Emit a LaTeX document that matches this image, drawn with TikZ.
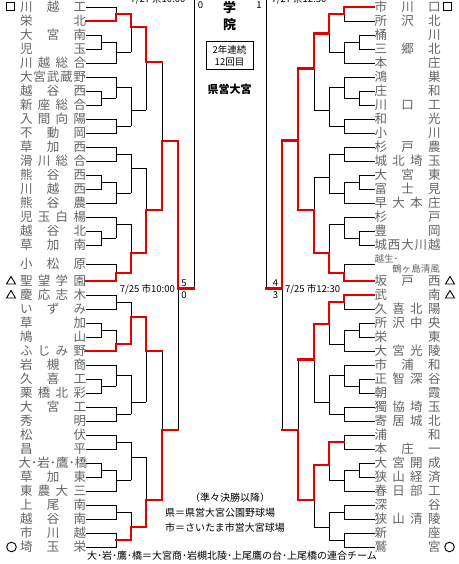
\documentclass[tikz,border=0pt]{standalone}
\usepackage{fontspec}
\setmainfont{Noto Sans CJK JP}
\definecolor{tgray}{RGB}{100,100,100}
\definecolor{bred}{RGB}{228,0,0}
\newcommand\gp{\hfill}
\newcommand\brk[1]{\foreach \x/\ya/\yb/\yo/\xn in {#1} {\draw[bk] (\x,\ya) -- (\x,\yb) (\x,\yo) -- (\xn,\yo);}}
\tikzset{
  tname/.style={inner sep=0pt, text=tgray, font=\fontsize{12.5}{12.5}\selectfont, text height=11pt, text depth=1.5pt, minimum width=66pt},
  bk/.style={draw=black, line width=0.8pt, line cap=rect},
  rd/.style={draw=bred, line width=2.2pt, line cap=rect},
  lbl/.style={inner sep=0pt, font=\fontsize{9.5}{9.5}\selectfont},
  mk/.style={draw=black, line width=1.1pt},
}
\begin{document}
\begin{tikzpicture}[x=1pt,y=-1pt]
\useasboundingbox (0,0) rectangle (458,564);
\fill[white] (0,0) rectangle (458,564);
% ---------------- left names
\foreach \i/\y/\tx in {1/7/{川\gp 越\gp 工},2/21/{栄\gp 北},3/35/{大\gp 宮\gp 南},4/49/{児\gp 玉},5/63/{川\gp 越\gp 総\gp 合},
 6/77/{大\gp 宮\gp 武\gp 蔵\gp 野},7/91/{越\gp 谷\gp 西},8/105/{新\gp 座\gp 総\gp 合},9/119/{入\gp 間\gp 向\gp 陽},10/133/{不\gp 動\gp 岡},
 11/147/{草\gp 加\gp 西},12/161/{滑\gp 川\gp 総\gp 合},13/175/{熊\gp 谷\gp 西},14/189/{川\gp 越\gp 西},15/203/{熊\gp 谷\gp 農},
 16/217/{児\gp 玉\gp 白\gp 楊},17/231/{越\gp 谷\gp 北},18/245/{草\gp 加\gp 南},19/264/{小\gp 松\gp 原},20/281/{聖\gp 望\gp 学\gp 園},
 21/295/{慶\gp 応\gp 志\gp 木},22/309/{い\gp ず\gp み},23/323/{草\gp 加},24/337/{鳩\gp 山},25/351/{ふ\gp じ\gp み\gp 野},
 26/365/{岩\gp 槻\gp 商},27/379/{久\gp 喜\gp 工},28/393/{栗\gp 橋\gp 北\gp 彩},29/407/{大\gp 宮\gp 工},30/421/{秀\gp 明},
 31/435/{松\gp 伏},32/449/{昌\gp 平},33/463/{大\gp ･\gp 岩\gp ･\gp 鷹\gp ･\gp 橋},34/477/{草\gp 加\gp 東},35/491/{東\gp 農\gp 大\gp 三},
 36/505/{上\gp 尾\gp 南},37/519/{越\gp 谷\gp 南},38/533/{市\gp 川\gp 越},39/547/{埼\gp 玉\gp 栄}}
 {\node[tname] (L\i) at (53,\y) {\makebox[66pt]{\tx}};}
% ---------------- right names
\foreach \i/\y/\tx in {1/7/{市\gp 川\gp 口},2/21/{所\gp 沢\gp 北},3/35/{桶\gp 川},4/49/{三\gp 郷\gp 北},5/63/{本\gp 庄},
 6/77/{鴻\gp 巣},7/91/{庄\gp 和},8/105/{川\gp 口\gp 工},9/119/{和\gp 光},10/133/{小\gp 川},
 11/147/{杉\gp 戸\gp 農},12/161/{城\gp 北\gp 埼\gp 玉},13/175/{大\gp 宮\gp 東},14/189/{富\gp 士\gp 見},15/203/{早\gp 大\gp 本\gp 庄},
 16/217/{杉\gp 戸},17/231/{豊\gp 岡},18/245/{城\gp 西\gp 大\gp 川\gp 越},20/281/{坂\gp 戸\gp 西},
 21/295/{武\gp 南},22/309/{久\gp 喜\gp 北\gp 陽},23/323/{所\gp 沢\gp 中\gp 央},24/337/{栄\gp 東},25/351/{大\gp 宮\gp 光\gp 陵},
 26/365/{市\gp 浦\gp 和},27/379/{正\gp 智\gp 深\gp 谷},28/393/{朝\gp 霞},29/407/{獨\gp 協\gp 埼\gp 玉},30/421/{寄\gp 居\gp 城\gp 北},
 31/435/{浦\gp 和},32/449/{本\gp 庄\gp 一},33/463/{大\gp 宮\gp 開\gp 成},34/477/{狭\gp 山\gp 経\gp 済},35/491/{春\gp 日\gp 部\gp 工},
 36/505/{深\gp 谷},37/519/{狭\gp 山\gp 清\gp 陵},38/533/{新\gp 座},39/547/{鷲\gp 宮}}
 {\node[tname] (R\i) at (407.5,\y) {\makebox[66pt]{\tx}};}
\node[tname, minimum width=0pt, anchor=west, font=\fontsize{9.5}{9.5}\selectfont] (R19a) at (374.5,258) {越生･};
\node[tname, minimum width=0pt, anchor=east, font=\fontsize{9.5}{9.5}\selectfont] (R19b) at (440,268) {鶴ヶ島清風};
\coordinate (R19) at (374.5,264);
% ---------------- team lines
\foreach \i/\l in {1/30,2/30,3/15,4/15,5/30,6/30,7/15,8/15,9/30,10/30,11/30,12/30,13/15,14/15,15/30,16/30,17/15,18/15,19/30,20/30,
 21/30,22/30,23/15,24/15,25/30,26/30,27/15,28/15,29/30,30/30,31/30,32/30,33/15,34/15,35/30,36/30,37/30,38/30,39/30}
 {\draw[bk] (L\i.east) -- ++(\l,0);}
\foreach \i/\l in {1/30,2/30,3/15,4/15,5/30,6/30,7/15,8/15,9/30,10/30,11/30,12/30,13/15,14/15,15/30,16/30,17/15,18/15,20/30,
 21/30,22/30,23/15,24/15,25/30,26/30,27/15,28/15,29/30,30/30,31/30,32/30,33/15,34/15,35/30,36/30,37/30,38/30,39/30}
 {\draw[bk] (R\i.west) -- ++(-\l,0);}
\draw[bk] (R19) -- ++(-30,0);
% ---------------- left bracket
\brk{116/7/21/14/131, 101/35/49/42/116, 116/42/63/52/131, 131/14/52/27/146, 101/91/105/98/116, 116/77/98/87/131,
 116/119/133/126/131, 131/87/126/110/146, 146/27/110/62/162,
 116/147/161/154/131, 101/175/189/182/116, 116/182/203/193/131, 131/154/193/168/146, 101/231/245/238/116, 116/217/238/224/131,
 116/264/281/273/131, 131/224/273/253/146, 146/168/253/210/162, 162/62/210/141/178,
 116/295/309/302/131, 101/323/337/330/116, 116/330/351/344/131, 131/302/344/317/146, 101/379/393/386/116, 116/365/386/375/131,
 116/407/421/414/131, 131/375/414/402/146, 146/317/402/351/162,
 116/435/449/442/131, 101/463/477/470/116, 116/470/491/480/131, 131/442/480/457/146, 116/505/519/512/131, 116/533/547/540/131,
 131/512/540/527/146, 146/457/527/500/162, 162/351/500/430/178, 178/141/430/288.5/194}
\draw[bk] (194,-5) -- (194,288.5);
\draw[rd] (L2.east) -- (116,21) |- (131,14) |- (146,27) |- (162,62);
\draw[rd] (L20.east) -- (116,281) |- (131,273) |- (146,253) |- (162,210) |- (178,141) |- (194,288.5);
\draw[rd] (L25.east) -- (116,351) |- (131,344) |- (146,317) |- (162,351);
\draw[rd] (116,540) -- (131,540) |- (146,527) |- (162,500) |- (178,430);
% ---------------- right bracket (mirrored)
\begin{scope}[shift={(460,0)},xscale=-1]
\brk{116/7/21/14/131, 101/35/49/42/116, 116/42/63/52/131, 131/14/52/33.5/146, 101/91/105/98/116, 116/77/98/87/131,
 116/119/133/126/131, 131/87/126/110/146, 146/33.5/110/68.5/162,
 116/147/161/154/131, 101/175/189/182/116, 116/182/203/193/131, 131/154/193/177/146, 101/231/245/238/116, 116/217/238/224/131,
 116/264/281/273/131, 131/224/273/253/146, 146/177/253/210/162, 162/68.5/210/140.5/178,
 116/295/309/302/131, 101/323/337/330/116, 116/330/351/344/131, 131/302/344/324/146, 101/379/393/386/116, 116/365/386/375/131,
 116/407/421/414/131, 131/375/414/402/146, 146/324/402/359.5/162,
 116/435/449/442/131, 101/463/477/470/116, 116/470/491/480/131, 131/442/480/465/146, 116/505/519/512/131, 116/533/547/540/131,
 131/512/540/527/146, 146/465/527/500/162, 162/359.5/500/430/178, 178/140.5/430/288.5/194}
\draw[bk] (194,-5) -- (194,288.5);
\draw[rd] (86,7) -- (116,7) |- (131,14) |- (146,33.5) |- (162,68.5) -- (162,140.5);
\draw[rd] (86,281) -- (116,281) |- (131,273) |- (146,253) |- (162,210) |- (178,140.5) |- (194,288.5);
\draw[rd] (86,295) -- (116,295) |- (131,302) |- (146,324) |- (162,359.5);
\draw[rd] (116,442) -- (131,442) |- (146,465) |- (162,500) |- (178,430);
\end{scope}
% ---------------- marks
\draw[mk] (6.5,2.5) rectangle (14.5,10.5);
\draw[mk] (443.5,2.5) rectangle (451.5,10.5);
\foreach \xx/\yy in {11/281,11/295,450/281,450/295}
  {\draw[draw=black, line width=0.9pt] (\xx-4.5,\yy+3) -- (\xx+4.5,\yy+3) -- (\xx,\yy-4.5) -- cycle;}
\draw[draw=black, line width=0.9pt] (11.5,547) circle (4.8);
\draw[draw=black, line width=0.9pt] (449.5,547) circle (4.8);
% ---------------- labels
\node[lbl, anchor=base] (t1) at (158,2.5) {7/27 県10:00};
\node[lbl, anchor=base] (t2) at (299,2.5) {7/27 県12:30};
\node[lbl] (s1) at (200.5,5.5) {0};
\node[lbl] (s2) at (259,5.5) {1};
\node[inner sep=0pt, font=\fontsize{13}{13}\selectfont\bfseries] (c1) at (229.5,7.5) {学};
\node[inner sep=0pt, font=\fontsize{13}{13}\selectfont\bfseries] (c2) at (229.5,25) {院};
\draw[draw=black, line width=1pt] (206.5,41.5) rectangle (253.5,69.5);
\node[lbl] (c3) at (229.5,49.5) {2年連続};
\node[lbl] (c4) at (229.5,62) {12回目};
\node[inner sep=0pt, font=\fontsize{11}{11}\selectfont\bfseries] (c5) at (229.5,89.5) {県営大宮};
\node[lbl, anchor=east] (d1) at (175,289) {7/25 市10:00};
\node[lbl, anchor=west] (d2) at (285,289) {7/25 市12:30};
\node[lbl] (s3) at (184,283.5) {5};
\node[lbl] (s4) at (184,295.5) {0};
\node[lbl] (s5) at (275.5,283.5) {4};
\node[lbl] (s6) at (275.5,295.5) {3};
\node[inner sep=0pt, font=\fontsize{10}{10}\selectfont] (g1) at (230,497.5) {（準々決勝以降）};
\node[inner sep=0pt, anchor=west, font=\fontsize{10}{10}\selectfont] (g2) at (165,513) {県＝県営大宮公園野球場};
\node[inner sep=0pt, anchor=west, font=\fontsize{10}{10}\selectfont] (g3) at (165,528) {市＝さいたま市営大宮球場};
\node[inner sep=0pt, anchor=west, font=\fontsize{10}{10}\selectfont] (g4) at (87,555.5) {大･岩･鷹･橋＝大宮商･岩槻北陵･上尾鷹の台･上尾橋の連合チーム};
\end{tikzpicture}
\end{document}
